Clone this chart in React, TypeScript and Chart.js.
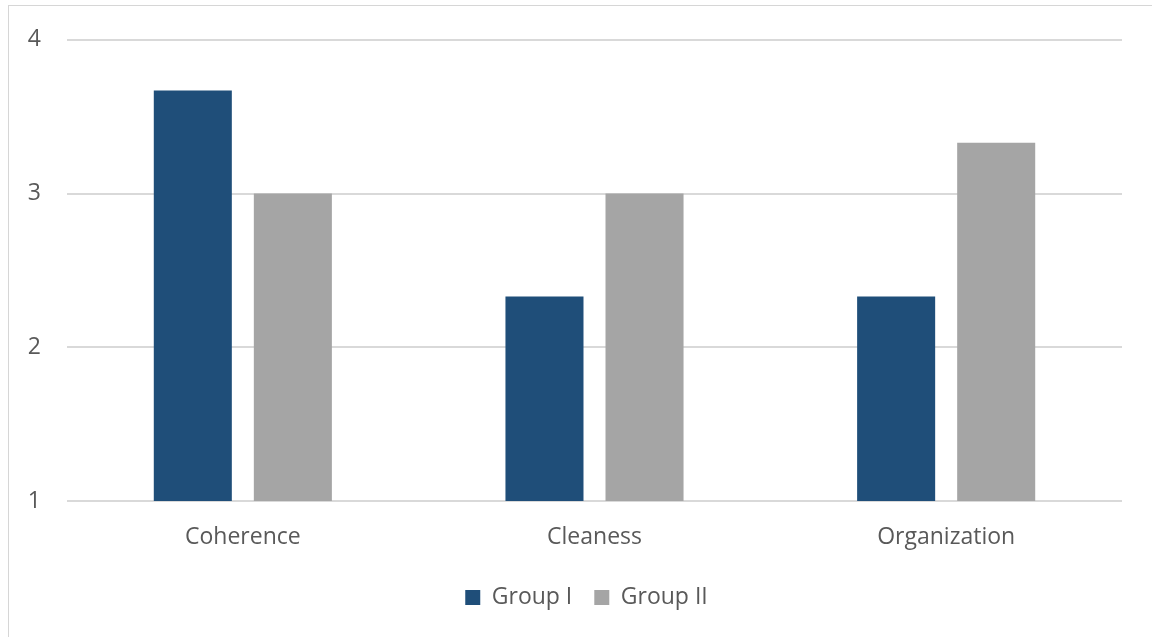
import React, { useEffect, useRef } from "react";
import { Chart, registerables } from "chart.js";

Chart.register(...registerables);

const categories = ["Coherence", "Cleaness", "Organization"];
const groupI = [3.67, 2.33, 2.33];
const groupII = [3.0, 3.0, 3.33];
const seriesNames = ["Group I", "Group II"];
const yTicks = [1, 2, 3, 4];

const FONT = "'Open Sans', 'Noto Sans', sans-serif";
const TEXT = "#595959";
const GRID = "#d9d9d9";

const legendShift = {
  id: "legendShift",
  afterLayout(chart: any) {
    const lg = chart.legend;
    if (lg) {
      lg.left += 17;
      lg.right += 17;
    }
  },
};

export default function App() {
  const ref = useRef<HTMLCanvasElement | null>(null);

  useEffect(() => {
    if (!ref.current) return;
    const chart = new Chart(ref.current, {
      type: "bar",
      data: {
        labels: categories,
        datasets: [
          {
            label: seriesNames[0],
            data: groupI,
            backgroundColor: "#1F4E79",
            barPercentage: 0.78,
            categoryPercentage: 0.569,
          },
          {
            label: seriesNames[1],
            data: groupII,
            backgroundColor: "#A5A5A5",
            barPercentage: 0.78,
            categoryPercentage: 0.569,
          },
        ],
      },
      plugins: [legendShift],
      options: {
        animation: false,
        responsive: false,
        maintainAspectRatio: false,
        layout: { padding: { left: 17, right: 30, top: 39, bottom: 18 } },
        plugins: {
          tooltip: { enabled: false },
          legend: {
            display: true,
            position: "bottom",
            labels: {
              boxWidth: 15,
              boxHeight: 15,
              padding: 22,
              color: TEXT,
              font: { family: FONT, size: 23 },
            },
          },
        },
        scales: {
          x: {
            grid: { display: false, drawTicks: false },
            border: { display: false },
            ticks: {
              color: TEXT,
              padding: 23,
              font: { family: FONT, size: 23 },
            },
            afterFit: (s: any) => {
              s.height = 63;
            },
          },
          y: {
            min: 1,
            max: 4,
            afterBuildTicks: (s: any) => {
              s.ticks = yTicks.map((v) => ({ value: v }));
            },
            grid: { color: GRID, lineWidth: 2, drawTicks: false },
            border: { display: false },
            ticks: {
              color: TEXT,
              padding: 26,
              font: { family: FONT, size: 23 },
            },
            afterFit: (s: any) => {
              s.width = 50;
            },
          },
        },
      },
    });
    return () => chart.destroy();
  }, []);

  return (
    <div
      style={{
        position: "fixed",
        left: 0,
        top: 0,
        width: 1152,
        height: 637,
        overflow: "hidden",
        background: "#fff",
      }}
    >
      <div
        style={{
          position: "absolute",
          left: 8,
          top: 5,
          width: 1200,
          height: 700,
          border: "1px solid #d6d6d6",
        }}
      />
      <canvas
        ref={ref}
        width={1152}
        height={637}
        style={{ position: "absolute", left: 0, top: 0, width: 1152, height: 637 }}
      />
    </div>
  );
}
